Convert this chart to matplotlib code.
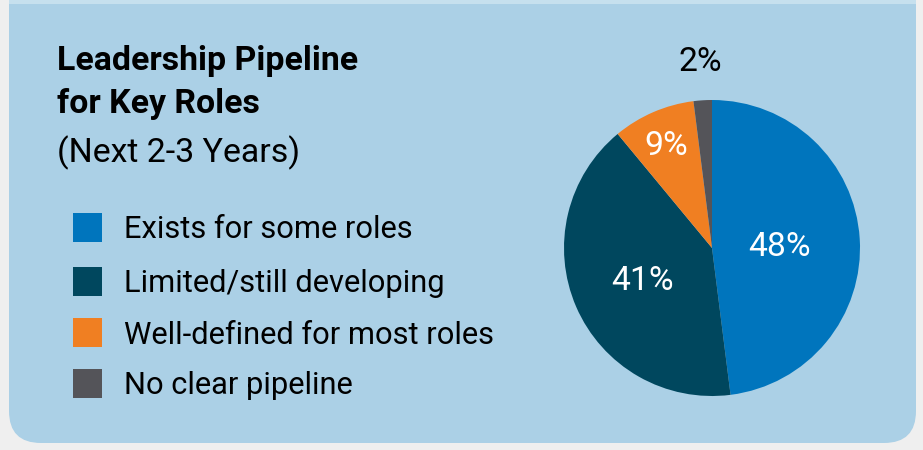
import matplotlib
matplotlib.use("Agg")
import matplotlib.pyplot as plt
from matplotlib.patches import FancyBboxPatch, Rectangle
import numpy as np

W, H = 923, 450

categories = ["Exists for some roles", "Limited/still developing",
              "Well-defined for most roles", "No clear pipeline"]
shares = [48, 41, 9, 2]
colors = ["#0075bd", "#00475e", "#f07f22", "#545459"]
label_dist = [0.46, 0.51, 0.78, 1.28]
label_color = ["white", "white", "white", "black"]

plt.rcParams['font.family'] = ['Roboto', 'DejaVu Sans']

fig = plt.figure(figsize=(W / 100, H / 100), dpi=100)
fig.patch.set_facecolor("#efefef")

# background canvas in pixel units
bg = fig.add_axes([0, 0, 1, 1], zorder=0)
bg.set_xlim(0, W)
bg.set_ylim(H, 0)
bg.axis("off")

bg.add_patch(FancyBboxPatch((9, -40), 907, 483,
                            boxstyle="round,pad=0,rounding_size=32",
                            facecolor="#abd0e6", edgecolor="none"))
bg.add_patch(Rectangle((9, 0), 907, 4, facecolor="#c6e0ee", edgecolor="none"))

# title
bg.text(57, 70, "Leadership Pipeline", fontsize=24.4, fontweight="bold", va="baseline")
bg.text(57, 113, "for Key Roles", fontsize=24.4, fontweight="bold", va="baseline")
bg.text(57, 162, "(Next 2-3 Years)", fontsize=24.4, va="baseline")

# legend
rows = [227.5, 281.5, 332.5, 383.5]
for yc, lab, col in zip(rows, categories, colors):
    bg.add_patch(Rectangle((73, yc - 14.5), 29, 29, facecolor=col, edgecolor="none"))
    bg.text(124, yc + 11, lab, fontsize=22.2, va="baseline")

# pie
cx, cy, r = 712, 248, 148
ax = fig.add_axes([(cx - r) / W, 1 - (cy + r) / H, 2 * r / W, 2 * r / H], zorder=1)
ax.patch.set_visible(False)
wedges, _ = ax.pie(shares, colors=colors, startangle=90, counterclock=False,
                   wedgeprops=dict(linewidth=0))
ax.set_xlim(-1, 1)
ax.set_ylim(-1, 1)
ax.set_aspect("equal")
for w, d, tc, s in zip(wedges, label_dist, label_color, shares):
    ang = np.deg2rad((w.theta1 + w.theta2) / 2)
    ax.text(d * np.cos(ang), d * np.sin(ang), f"{s}%", color=tc, fontsize=24.3,
            ha="center", va="center_baseline", clip_on=False)

fig.savefig("out.png", dpi=100, facecolor=fig.get_facecolor())
